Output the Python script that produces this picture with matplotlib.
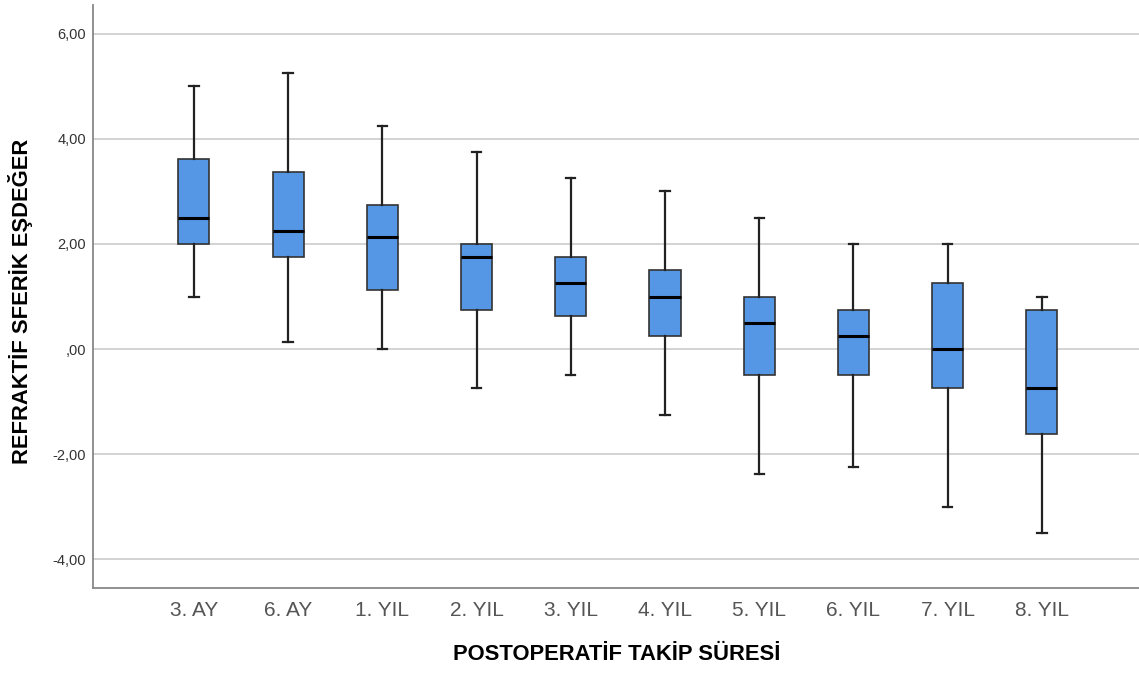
import matplotlib
matplotlib.use("Agg")
import matplotlib.pyplot as plt

plt.rcParams["font.family"] = ["Liberation Sans", "DejaVu Sans"]

categories = ["3. AY", "6. AY", "1. YIL", "2. YIL", "3. YIL",
              "4. YIL", "5. YIL", "6. YIL", "7. YIL", "8. YIL"]
whislo = [1.0, 0.125, 0.0, -0.75, -0.5, -1.25, -2.375, -2.25, -3.0, -3.5]
q1 = [2.0, 1.75, 1.125, 0.75, 0.625, 0.25, -0.5, -0.5, -0.75, -1.625]
med = [2.5, 2.25, 2.125, 1.75, 1.25, 1.0, 0.5, 0.25, 0.0, -0.75]
q3 = [3.625, 3.375, 2.75, 2.0, 1.75, 1.5, 1.0, 0.75, 1.25, 0.75]
whishi = [5.0, 5.25, 4.25, 3.75, 3.25, 3.0, 2.5, 2.0, 2.0, 1.0]
yticks = [-4, -2, 0, 2, 4, 6]
ytick_labels = ["-4,00", "-2,00", ",00", "2,00", "4,00", "6,00"]

stats = []
for i, name in enumerate(categories):
    stats.append({"label": name, "whislo": whislo[i], "q1": q1[i], "med": med[i],
                  "q3": q3[i], "whishi": whishi[i], "fliers": []})

fig = plt.figure(figsize=(11.39, 6.73), dpi=100)
ax = fig.add_axes([93 / 1139, 1 - 588 / 673, 1 - 93 / 1139, (588 - 5) / 673])

ax.bxp(stats, positions=range(len(categories)), widths=0.33, patch_artist=True,
       boxprops=dict(facecolor="#5596e5", edgecolor="#333333", linewidth=1.2),
       medianprops=dict(color="black", linewidth=2.2),
       whiskerprops=dict(color="#222222", linewidth=1.6),
       capprops=dict(color="#222222", linewidth=1.6),
       capwidths=0.1, zorder=3)

ax.set_xlim(-1.07, 10.03)
ax.set_ylim(-4.55, 6.55)
ax.set_yticks(yticks)
ax.set_yticklabels(ytick_labels, fontsize=10.5, color="#333333")
ax.set_xticks(range(len(categories)))
ax.set_xticklabels(categories, fontsize=15, color="#555555")
ax.tick_params(length=0, pad=5)
ax.tick_params(axis="x", pad=9)
ax.yaxis.grid(True, color="#d0d0d0", linewidth=1.3, zorder=0)
ax.set_axisbelow(True)

for side in ["top", "right"]:
    ax.spines[side].set_visible(False)
for side in ["left", "bottom"]:
    ax.spines[side].set_color("#888888")
    ax.spines[side].set_linewidth(1.3)

fig.text(21 / 1139, 1 - 301 / 673, "REFRAKTİF SFERİK EŞDEĞER", rotation=90,
         fontsize=15.8, fontweight="bold", ha="center", va="center")
fig.text(617 / 1139, 1 - 654 / 673, "POSTOPERATİF TAKİP SÜRESİ",
         fontsize=15.8, fontweight="bold", ha="center", va="center")

fig.savefig("out.png", dpi=100)
